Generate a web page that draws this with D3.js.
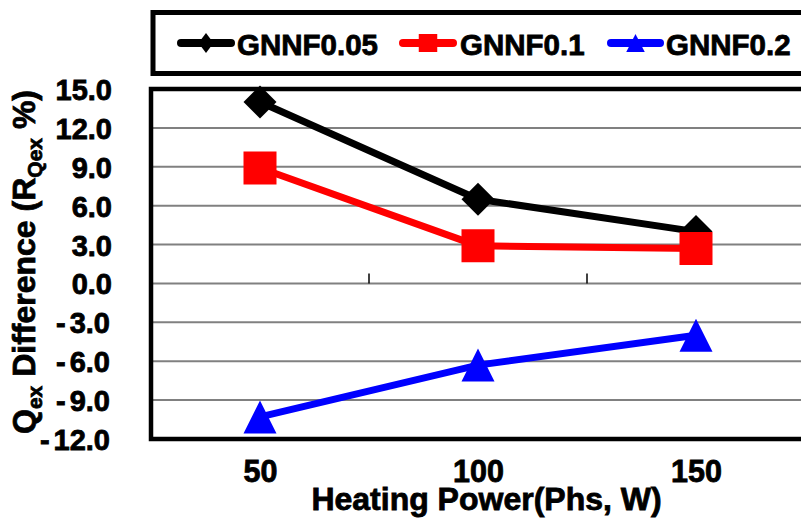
<!DOCTYPE html>
<html>
<head>
<meta charset="utf-8">
<script src="https://cdn.jsdelivr.net/npm/d3@7"></script>
<style>
  html, body { margin: 0; padding: 0; background: #fff; }
  svg { display: block; }
  text { font-family: "Liberation Sans", Arial, sans-serif; font-weight: bold; fill: #000; stroke: #000; stroke-width: 0.8px; }
</style>
</head>
<body>
<script>
// Heating power categories (W)
const powers = [50, 100, 150];
// Q_ex difference (%) per nanofluid concentration
const gnnf005 = [14.0, 6.5, 4.0];
const gnnf01 = [8.9, 2.9, 2.7];
const gnnf02 = [-10.3, -6.3, -4.0];
const seriesNames = ["GNNF0.05", "GNNF0.1", "GNNF0.2"];
const yTicks = [-12, -9, -6, -3, 0, 3, 6, 9, 12, 15];

const W = 801, H = 518;
const plot = { left: 151, right: 805, top: 89, bottom: 439 };

const svg = d3.select("body").append("svg").attr("width", W).attr("height", H);

const x = d3.scalePoint().domain(powers).range([plot.left, plot.right]).padding(0.5);
const y = d3.scaleLinear().domain([-12, 15]).range([plot.bottom, plot.top]);

const series = [
  { name: seriesNames[0], values: gnnf005, color: "#000000", marker: "diamond" },
  { name: seriesNames[1], values: gnnf01, color: "#ff0000", marker: "square" },
  { name: seriesNames[2], values: gnnf02, color: "#0000ff", marker: "triangle" }
];

// horizontal gridlines
svg.append("g")
  .selectAll("line")
  .data(yTicks.filter(t => t > -12 && t < 15))
  .join("line")
  .attr("x1", plot.left).attr("x2", plot.right)
  .attr("y1", d => y(d)).attr("y2", d => y(d))
  .attr("stroke", "#808080").attr("stroke-width", 2);

// category separator ticks on the zero line
const step = x.step();
svg.append("g")
  .selectAll("line")
  .data(powers.slice(0, -1))
  .join("line")
  .attr("x1", d => x(d) + step / 2).attr("x2", d => x(d) + step / 2)
  .attr("y1", y(0) - 10).attr("y2", y(0))
  .attr("stroke", "#000").attr("stroke-width", 1.5);

// y axis labels (negative values get a slightly wider dash gap)
const yAxis = svg.append("g")
  .attr("transform", `translate(${plot.left},0)`)
  .call(d3.axisLeft(y).tickValues(yTicks).tickSize(0).tickPadding(39).tickFormat(""));
yAxis.select(".domain").remove();
yAxis.selectAll(".tick text").each(function(d) {
  const t = d3.select(this)
    .style("font-size", "29px")
    .attr("dy", "0.36em");
  if (d < 0) {
    t.append("tspan").style("letter-spacing", "4px").attr("dx", -2).text("-");
    t.append("tspan").text(Math.abs(d).toFixed(1));
  } else {
    t.text(d.toFixed(1));
  }
});

// x axis labels
const xAxis = svg.append("g")
  .attr("transform", `translate(0,${plot.bottom})`)
  .call(d3.axisBottom(x).tickSize(0).tickPadding(0));
xAxis.select(".domain").remove();
xAxis.selectAll("text")
  .attr("y", 43).attr("dy", 0)
  .style("font-size", "30.5px");

// axis titles
svg.append("text")
  .attr("x", 486.5).attr("y", 510)
  .attr("text-anchor", "middle")
  .style("font-size", "32px")
  .text("Heating Power(Phs, W)");

const yt = svg.append("text")
  .attr("transform", "translate(35,262) rotate(-90)")
  .attr("text-anchor", "middle")
  .style("font-size", "32px");
yt.append("tspan").text("Q");
yt.append("tspan").attr("dy", 7).style("font-size", "21px").text("ex");
yt.append("tspan").attr("dy", -7).text(" Difference (R");
yt.append("tspan").attr("dy", 7).style("font-size", "21px").text("Qex");
yt.append("tspan").attr("dy", -7).text("  %)");

// marker shapes, centred on the data point
function markerPath(type, w, h) {
  const a = w / 2, b = h / 2;
  if (type === "diamond") return `M0,${-b}L${a},0L0,${b}L${-a},0Z`;
  if (type === "square") return `M${-a},${-b}H${a}V${b}H${-a}Z`;
  return `M0,${-b}L${a},${b}H${-a}Z`;
}

const line = d3.line().x((d, i) => x(powers[i])).y(d => y(d));

series.forEach(s => {
  const g = svg.append("g");
  g.append("path")
    .attr("d", line(s.values))
    .attr("fill", "none")
    .attr("stroke", s.color)
    .attr("stroke-width", 7)
    .attr("stroke-linejoin", "round");
  g.selectAll("path.marker")
    .data(s.values)
    .join("path")
    .attr("class", "marker")
    .attr("transform", (d, i) => `translate(${x(powers[i])},${y(d)})`)
    .attr("d", markerPath(s.marker, 33, 33))
    .attr("fill", s.color);
});

// plot frame
svg.append("rect")
  .attr("x", plot.left).attr("y", plot.top)
  .attr("width", plot.right - plot.left).attr("height", plot.bottom - plot.top)
  .attr("fill", "none").attr("stroke", "#000").attr("stroke-width", 4.5);

// legend
const legend = svg.append("g");
legend.append("rect")
  .attr("x", 153).attr("y", 12.5)
  .attr("width", 700).attr("height", 61)
  .attr("fill", "#fff").attr("stroke", "#000").attr("stroke-width", 5);

const legendItems = [
  { lx1: 177, lx2: 235, tx: 237, mw: 15, mh: 20 },
  { lx1: 399, lx2: 457, tx: 460, mw: 18.5, mh: 18 },
  { lx1: 607, lx2: 664, tx: 666, mw: 18.5, mh: 18 }
];
series.forEach((s, i) => {
  const it = legendItems[i];
  const ly = 43;
  legend.append("line")
    .attr("x1", it.lx1 + 4).attr("x2", it.lx2 - 4)
    .attr("y1", ly).attr("y2", ly)
    .attr("stroke", s.color).attr("stroke-width", 8).attr("stroke-linecap", "round");
  legend.append("path")
    .attr("transform", `translate(${(it.lx1 + it.lx2) / 2},${ly})`)
    .attr("d", markerPath(s.marker, it.mw, it.mh))
    .attr("fill", s.color);
  legend.append("text")
    .attr("x", it.tx).attr("y", 55)
    .style("font-size", "29.5px")
    .text(s.name);
});
</script>
</body>
</html>
